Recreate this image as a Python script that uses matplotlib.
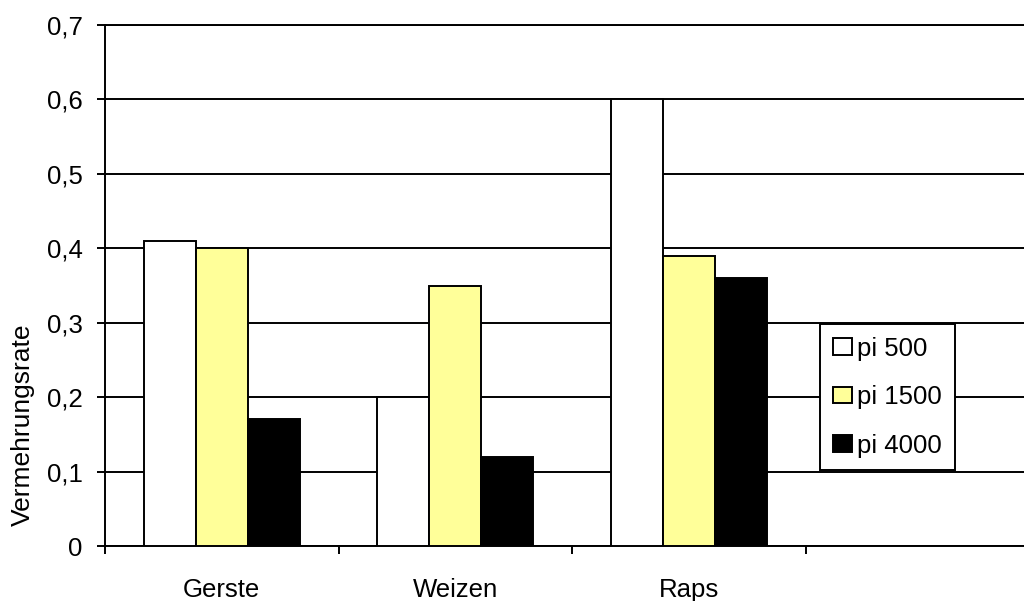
import numpy as np
import matplotlib
matplotlib.use("Agg")
import matplotlib.pyplot as plt
from matplotlib.ticker import FuncFormatter

plt.rcParams["font.family"] = ["Liberation Sans", "DejaVu Sans"]

# data (4th slot is empty in the original)
categories = ["Gerste", "Weizen", "Raps", ""]
series = ["pi 500", "pi 1500", "pi 4000"]
pi_500 = [0.41, 0.20, 0.60, np.nan]
pi_1500 = [0.40, 0.35, 0.39, np.nan]
pi_4000 = [0.17, 0.12, 0.36, np.nan]
y_ticks = [0.0, 0.1, 0.2, 0.3, 0.4, 0.5, 0.6, 0.7]

colors = ["#FFFFFF", "#FFFF99", "#000000"]
LW = 1.4
FS = 18.5

fig = plt.figure(figsize=(10.24, 6.01), dpi=100)
# axes runs past the right edge, like the clipped original
ax = fig.add_axes([105 / 1024, 1 - 546 / 601, 934 / 1024, 521 / 601])

x = np.arange(len(categories))
w = 0.2227
for k, (vals, col, lab) in enumerate(zip([pi_500, pi_1500, pi_4000], colors, series)):
    ax.bar(x + (k - 1) * w, vals, width=w, color=col, edgecolor="black",
           linewidth=LW, label=lab, zorder=3)

ax.set_xlim(-0.5, len(categories) - 0.5)
ax.set_ylim(0, 0.7)
ax.set_yticks(y_ticks)
ax.yaxis.set_major_formatter(
    FuncFormatter(lambda v, _: "0" if v == 0 else f"{v:.1f}".replace(".", ",")))
ax.yaxis.grid(True, color="black", linewidth=LW, zorder=0)
ax.set_axisbelow(True)

# category boundaries as major ticks, names as minor tick labels
ax.set_xticks(np.arange(len(categories)) - 0.5)
ax.set_xticklabels([])
ax.set_xticks(x, minor=True)
ax.set_xticklabels(categories, minor=True)
ax.tick_params(axis="x", which="major", direction="out", length=6, width=LW)
ax.tick_params(axis="x", which="minor", length=0, pad=23, labelsize=FS)
ax.tick_params(axis="y", direction="out", length=6, width=LW, pad=10,
               labelsize=FS)

for s in ["left", "bottom", "top"]:
    ax.spines[s].set_linewidth(LW)
ax.spines["right"].set_visible(False)

fig.text(23 / 1024, 1 - 425 / 601, "Vermehrungsrate", rotation=90,
         ha="center", va="center", fontsize=19)

leg = ax.legend(loc="center", bbox_to_anchor=(2.851, 0.2),
                bbox_transform=ax.transData, fontsize=FS, frameon=True,
                fancybox=False, framealpha=1, edgecolor="black",
                handlelength=0.73, handleheight=0.62, handletextpad=0.23,
                labelspacing=0.95, borderpad=0.5)
leg.get_frame().set_linewidth(LW)
leg.set_zorder(5)

fig.savefig("out.png", dpi=100)
